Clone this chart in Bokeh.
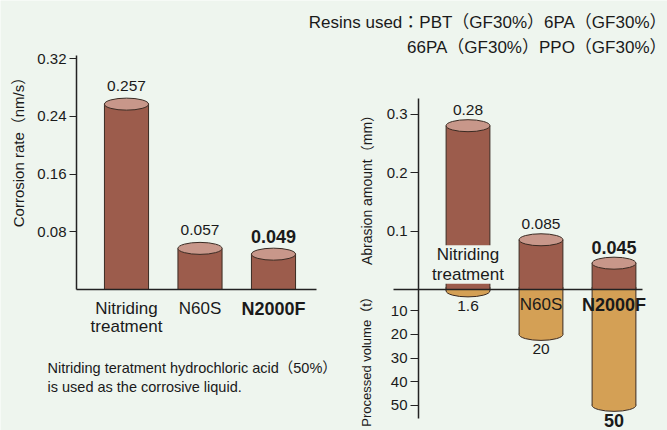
import math
from bokeh.plotting import figure
from bokeh.models import Range1d, LinearAxis, FixedTicker, Label, ColumnDataSource
from bokeh.core.properties import value
from bokeh.embed import file_html
from bokeh.resources import INLINE

# ---------------- data ----------------
corr_categories = ["Nitriding\ntreatment", "N60S", "N2000F"]
corrosion_rate = [0.257, 0.057, 0.049]
corrosion_labels = ["0.257", "0.057", "0.049"]
corrosion_ticks = [0.08, 0.16, 0.24, 0.32]

abr_categories = ["Nitriding\ntreatment", "N60S", "N2000F"]
abrasion_amount = [0.28, 0.085, 0.045]
abrasion_labels = ["0.28", "0.085", "0.045"]
abrasion_ticks = [0.1, 0.2, 0.3]

processed_volume = [1.6, 20, 50]
volume_labels = ["1.6", "20", "50"]
volume_ticks = [10, 20, 30, 40, 50]

highlight = [False, False, True]   # N2000F is emphasised

header_lines = ["Resins used：PBT（GF30%）6PA（GF30%）", "66PA（GF30%）PPO（GF30%）"]
note_lines = ["Nitriding teratment hydrochloric acid（50%）", "is used as the corrosive liquid."]
corr_title = "Corrosion rate（nm/s）"
abr_title = "Abrasion amount（mm）"
vol_title = "Processed volume（t）"

# ---------------- style ----------------
BG = "#eef5ee"
BODY = "#9c5c4c"
TOP = "#c8978a"
ORANGE = "#d4a055"
EDGE = "#3a2a22"
INK = "#1a1a1a"
AXIS = "#222222"
FONT = "Liberation Sans, Noto Sans CJK JP, sans-serif"

# picture geometry (pixels of the photographed picture)
X0, X1, Y0, Y1 = 0, 667, 0, 430
WPX, HPX = X1 - X0, Y1 - Y0


def x_range_for(anchor_px, anchor_val, ppu):
    start = anchor_val - (anchor_px - X0) / ppu
    return Range1d(start=start, end=start + WPX / ppu)


def y_range_for(anchor_px, anchor_val, ppu):
    return Range1d(start=anchor_val - (Y1 - anchor_px) / ppu,
                   end=anchor_val + (anchor_px - Y0) / ppu)


def px_x(r, ppu, px):
    return r.start + (px - X0) / ppu


def px_y(r, ppu, px):
    return r.start + (Y1 - px) / ppu


LX_PPU, LY_PPU, RX_PPU, RA_PPU, RV_PPU = 73.5, 721.25, 73.0, 585.0, -2.365
lx = x_range_for(126, 0, LX_PPU)
ly = y_range_for(289, 0, LY_PPU)
rx = x_range_for(467.5, 0, RX_PPU)
ra = y_range_for(289, 0, RA_PPU)
rv = y_range_for(286.6, 0, RV_PPU)

p = figure(width=WPX, height=HPX, output_backend="svg", toolbar_location=None,
           x_range=Range1d(X0, X1), y_range=Range1d(Y1, Y0),
           x_axis_type=None, y_axis_type=None, min_border=0,
           background_fill_color=BG, border_fill_color=BG, outline_line_color=None)
p.grid.visible = False
p.extra_x_ranges = {"lx": lx, "rx": rx}
p.extra_y_ranges = {"ly": ly, "ra": ra, "rv": rv}

BW = 0.6  # bar width in category units


def sizes(normal, bold):
    return [bold if h else normal for h in highlight]


def styles():
    return ["bold" if h else "normal" for h in highlight]


def cylinder(xs, tops, xn, yn, fill, cap_fill, down=False):
    src = ColumnDataSource(dict(x=xs, top=tops, zero=[0] * len(xs),
                                left=[x - BW / 2 for x in xs], right=[x + BW / 2 for x in xs]))
    if down:
        p.ellipse(x="x", y="top", width=BW, height=12, height_units="screen", source=src,
                  fill_color=cap_fill, line_color=EDGE, line_width=1, x_range_name=xn, y_range_name=yn)
    p.vbar(x="x", top="top", bottom="zero", width=BW, source=src, fill_color=fill, line_color=None,
           x_range_name=xn, y_range_name=yn)
    p.segment(x0="left", y0="zero", x1="left", y1="top", source=src, line_color=EDGE, line_width=1,
              x_range_name=xn, y_range_name=yn)
    p.segment(x0="right", y0="zero", x1="right", y1="top", source=src, line_color=EDGE, line_width=1,
              x_range_name=xn, y_range_name=yn)
    if not down:
        p.ellipse(x="x", y="top", width=BW, height=12, height_units="screen", source=src,
                  fill_color=cap_fill, line_color=EDGE, line_width=1, x_range_name=xn, y_range_name=yn)


# ---------------- left chart: corrosion rate ----------------
lidx = list(range(len(corr_categories)))
cylinder(lidx, corrosion_rate, "lx", "ly", BODY, TOP)

p.text(x="x", y="y", text="t", text_font_size="size", text_font_style="style",
       source=ColumnDataSource(dict(x=lidx, y=corrosion_rate, t=corrosion_labels,
                                    size=sizes("15.5px", "18px"), style=styles())),
       text_font=value(FONT), text_color=INK, text_align="center", text_baseline="middle",
       y_offset=-18, x_range_name="lx", y_range_name="ly")

p.text(x="x", y="y", text="t", text_font_size="size", text_font_style="style",
       source=ColumnDataSource(dict(x=lidx, y=[0] * len(lidx), t=corr_categories,
                                    size=sizes("17px", "18px"), style=styles())),
       text_font=value(FONT), text_color=INK, text_align="center", text_baseline="top",
       text_line_height=0.98, y_offset=9, x_range_name="lx", y_range_name="ly")

left_y = LinearAxis(x_range_name="lx", y_range_name="ly",
                    fixed_location=px_x(lx, LX_PPU, 76), bounds=(0, px_y(ly, LY_PPU, 55)),
                    ticker=FixedTicker(ticks=corrosion_ticks, minor_ticks=[]))
left_x = LinearAxis(x_range_name="lx", y_range_name="ly", fixed_location=0,
                    bounds=(px_x(lx, LX_PPU, 76), px_x(lx, LX_PPU, 316)),
                    ticker=FixedTicker(ticks=[], minor_ticks=[]))

# ---------------- right chart: abrasion / processed volume ----------------
ridx = list(range(len(abr_categories)))
cylinder(ridx, processed_volume, "rx", "rv", ORANGE, ORANGE, down=True)
cylinder(ridx, abrasion_amount, "rx", "ra", BODY, TOP)

p.text(x="x", y="y", text="t", text_font_size="size", text_font_style="style",
       source=ColumnDataSource(dict(x=ridx, y=abrasion_amount, t=abrasion_labels,
                                    size=sizes("15.5px", "18px"), style=styles())),
       text_font=value(FONT), text_color=INK, text_align="center", text_baseline="middle",
       y_offset=-16, x_range_name="rx", y_range_name="ra")
p.text(x="x", y="y", text="t", text_font_size="size", text_font_style="style",
       source=ColumnDataSource(dict(x=ridx, y=processed_volume, t=volume_labels,
                                    size=sizes("15.5px", "18px"), style=styles())),
       text_font=value(FONT), text_color=INK, text_align="center", text_baseline="middle",
       y_offset=15, x_range_name="rx", y_range_name="rv")

for i, cat in enumerate(abr_categories):
    two_line = "\n" in cat
    p.add_layout(Label(x=ridx[i], y=0, x_range_name="rx", y_range_name="ra", text=cat,
                       text_font=FONT, text_font_size="18px" if highlight[i] else "17px",
                       text_font_style="bold" if highlight[i] else "normal",
                       text_color=INK, text_align="center", text_baseline="middle",
                       text_line_height=1.03, y_offset=25 if two_line else -15,
                       background_fill_color=BG if two_line else None))

right_a = LinearAxis(x_range_name="rx", y_range_name="ra",
                     fixed_location=px_x(rx, RX_PPU, 418),
                     bounds=(px_y(ra, RA_PPU, 418), px_y(ra, RA_PPU, 98)),
                     ticker=FixedTicker(ticks=abrasion_ticks, minor_ticks=[]))
right_v = LinearAxis(x_range_name="rx", y_range_name="rv",
                     fixed_location=px_x(rx, RX_PPU, 418), bounds=(5, 55),
                     ticker=FixedTicker(ticks=volume_ticks, minor_ticks=[]))
right_z = LinearAxis(x_range_name="rx", y_range_name="ra", fixed_location=0,
                     bounds=(px_x(rx, RX_PPU, 393), px_x(rx, RX_PPU, 642)),
                     ticker=FixedTicker(ticks=[], minor_ticks=[]))

for ax, side in [(left_y, "left"), (left_x, "below"), (right_a, "left"), (right_v, "left"), (right_z, "below")]:
    ax.axis_line_color = AXIS
    ax.axis_line_width = 1.5
    ax.major_tick_line_color = AXIS
    ax.major_tick_line_width = 1.2
    ax.major_tick_in = 0
    ax.major_tick_out = 7
    ax.minor_tick_out = 0
    ax.minor_tick_in = 0
    ax.major_label_text_font = FONT
    ax.major_label_text_font_size = "15px"
    ax.major_label_text_color = INK
    ax.major_label_standoff = 3
    p.add_layout(ax, side)
right_v.axis_line_color = None
right_a.major_tick_out = 8
right_v.major_tick_out = 8

# ---------------- free texts (picture-pixel coordinates) ----------------
p.text(x=[18], y=[148], text=[corr_title], angle=math.pi / 2, text_font=value(FONT),
       text_font_size="15px", text_color=INK, text_align="center", text_baseline="middle")
p.text(x=[366], y=[186], text=[abr_title], angle=math.pi / 2,
       text_font=value(FONT), text_font_size="14px", text_color=INK,
       text_align="center", text_baseline="middle")
p.text(x=[366], y=[358], text=[vol_title], angle=math.pi / 2,
       text_font=value(FONT), text_font_size="13px", text_color=INK,
       text_align="center", text_baseline="middle")
p.text(x=[666, 666], y=[21.5, 47], text=header_lines, text_font=value(FONT),
       text_font_size="17px", text_color=INK, text_align="right", text_baseline="middle")
p.text(x=[47, 47], y=[367, 386], text=note_lines, text_font=value(FONT),
       text_font_size="14.5px", text_color=INK, text_align="left", text_baseline="middle")

open("out.html", "w").write(file_html(p, INLINE))
